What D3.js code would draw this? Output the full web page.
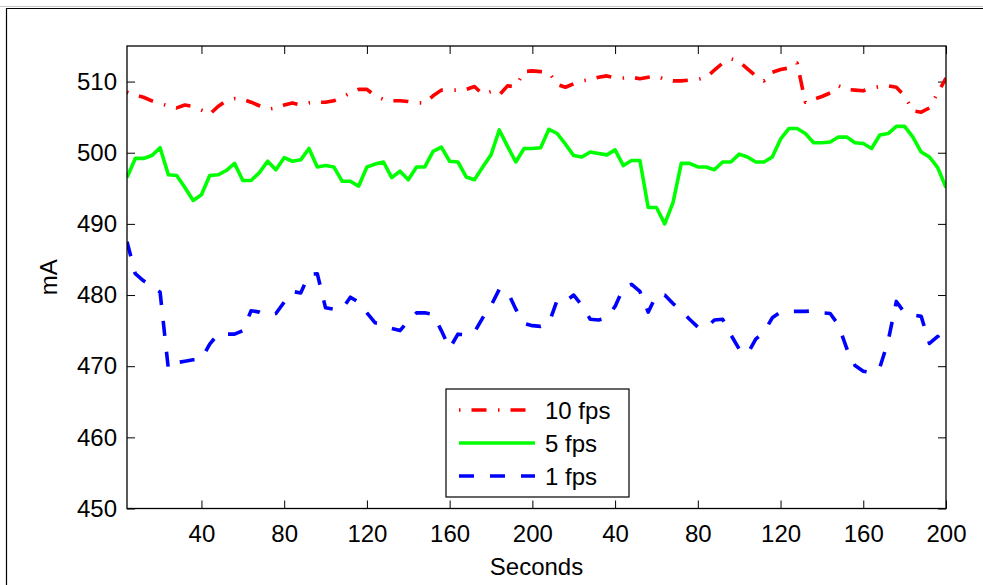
<!DOCTYPE html>
<html>
<head>
<meta charset="utf-8">
<script src="https://cdn.jsdelivr.net/npm/d3@7"></script>
<style>
  html, body { margin: 0; padding: 0; background: #fff; }
  svg text { font-family: "Liberation Sans", Arial, Helvetica, sans-serif; fill: #000; }
</style>
</head>
<body>
<svg id="chart" width="983" height="585"></svg>
<script>
// Current draw (mA) sampled every 4 s over two 200 s runs
const seconds = d3.range(4, 401, 4);

const fps10 = [
  508.5, 508.1, 507.8, 507.3, 506.9, 506.6, 506.3, 506.7, 506.5, 506.0,
  505.4, 506.5, 507.3, 507.6, 507.5, 507.1, 506.6, 506.1, 506.3, 506.7,
  507.0, 506.7, 507.0, 507.1, 507.1, 507.3, 507.8, 508.4, 508.9, 508.9,
  508.0, 507.5, 507.3, 507.3, 507.2, 507.0, 507.0, 508.0, 508.8, 508.8,
  508.8, 508.9, 509.3, 508.2, 508.6, 508.1, 509.4, 509.3, 511.4, 511.5,
  511.4, 511.3, 509.6, 509.2, 509.7, 510.1, 510.3, 510.6, 510.8, 510.5,
  510.5, 510.6, 510.4, 510.6, 510.8, 510.3, 510.1, 510.1, 510.2, 510.3,
  510.6, 511.6, 512.6, 513.2, 512.8, 511.8, 510.8, 510.1, 511.3, 511.7,
  511.9, 512.6, 507.1, 507.5, 507.9, 508.4, 509.4, 508.9, 508.8, 508.7,
  509.1, 509.3, 509.4, 509.2, 508.0, 505.9, 505.7, 506.3, 508.4, 510.5
];

const fps5 = [
  496.5, 499.2, 499.2, 499.6, 500.7, 496.9, 496.8, 495.1, 493.3, 494.1,
  496.8, 496.9, 497.5, 498.5, 496.1, 496.1, 497.2, 498.8, 497.6, 499.3,
  498.8, 499.0, 500.6, 498.0, 498.2, 498.0, 496.0, 496.0, 495.3, 498.0,
  498.4, 498.7, 496.5, 497.4, 496.2, 498.0, 498.0, 500.2, 500.8, 498.8,
  498.7, 496.6, 496.2, 498.0, 499.7, 503.2, 500.9, 498.7, 500.6, 500.6,
  500.7, 503.3, 502.7, 501.2, 499.6, 499.4, 500.1, 499.9, 499.7, 500.4,
  498.2, 498.9, 498.9, 492.3, 492.3, 490.0, 493.0, 498.5, 498.5, 498.0,
  498.0, 497.6, 498.7, 498.7, 499.8, 499.4, 498.7, 498.7, 499.4, 501.9,
  503.4, 503.4, 502.7, 501.4, 501.4, 501.5, 502.2, 502.2, 501.4, 501.3,
  500.6, 502.5, 502.7, 503.7, 503.7, 502.2, 500.1, 499.4, 497.9, 495.1
];

const fps1 = [
  487.5, 483.0, 482.0, 481.3, 480.4, 469.6, 470.5, 470.7, 470.9, 471.0,
  473.1, 474.5, 474.5, 474.5, 475.0, 477.8, 477.6, 477.1, 477.4, 479.0,
  480.5, 480.3, 482.9, 483.0, 478.2, 478.0, 478.0, 479.7, 479.0, 477.5,
  476.1, 475.9, 475.3, 475.0, 476.4, 477.5, 477.5, 477.3, 475.0, 472.5,
  474.5, 474.4, 474.8, 476.8, 478.5, 480.8, 480.5, 478.0, 476.0, 475.7,
  475.6, 476.0, 479.3, 479.1, 480.0, 478.5, 476.6, 476.5, 476.8, 478.4,
  481.0, 481.5, 480.5, 477.6, 480.0, 480.0, 478.8, 477.8, 476.6, 475.5,
  475.4, 476.5, 476.6, 474.4, 472.4, 471.7, 473.8, 474.8, 476.8, 477.6,
  477.7, 477.7, 477.7, 477.8, 477.5, 477.4, 475.8, 472.5, 470.1, 469.3,
  469.1, 469.8, 473.5, 479.1, 477.5, 477.2, 477.0, 473.2, 474.2, 472.3
];

const seriesNames = ["10 fps", "5 fps", "1 fps"];
const xTickValues = [40, 80, 120, 160, 200, 240, 280, 320, 360, 400];
const xTickLabels = ["40", "80", "120", "160", "200", "40", "80", "120", "160", "200"];
const yTickValues = [450, 460, 470, 480, 490, 500, 510];

const series = [
  { name: seriesNames[0], values: fps10, color: "#ff0000", dash: "1.5,11,15,11.5" },
  { name: seriesNames[1], values: fps5,  color: "#00ff00", dash: null },
  { name: seriesNames[2], values: fps1,  color: "#0000ff", dash: "15,16" }
];

const svg = d3.select("#chart");
const W = 983, H = 585;
const plot = { left: 127, right: 946, top: 46, bottom: 508.5 };

svg.append("rect").attr("width", W).attr("height", H).attr("fill", "#fff");

// Figure border
svg.append("line").attr("x1", 0).attr("x2", W).attr("y1", 6.5).attr("y2", 6.5)
  .attr("stroke", "#c4c4c4").attr("stroke-width", 1.2);
svg.append("path").attr("d", `M6.5,${H} L6.5,8.5 L${W},8.5`)
  .attr("fill", "none").attr("stroke", "#000").attr("stroke-width", 1.2);

const x = d3.scaleLinear().domain([4, 400]).range([plot.left, plot.right]);
const y = d3.scaleLinear().domain([450, 515]).range([plot.bottom, plot.top]);

svg.append("defs").append("clipPath").attr("id", "plotClip")
  .append("rect")
  .attr("x", plot.left).attr("y", plot.top)
  .attr("width", plot.right - plot.left).attr("height", plot.bottom - plot.top);

const labelFont = 24;
const tickLen = 8;

// Bottom axis with labels
const gx = svg.append("g").attr("transform", `translate(0,${plot.bottom})`)
  .call(d3.axisBottom(x).tickValues(xTickValues)
    .tickFormat((d, i) => xTickLabels[i])
    .tickSizeInner(-tickLen).tickSizeOuter(0).tickPadding(16));
// Top axis, ticks only
const gxt = svg.append("g").attr("transform", `translate(0,${plot.top})`)
  .call(d3.axisTop(x).tickValues(xTickValues).tickFormat("")
    .tickSizeInner(-tickLen).tickSizeOuter(0));
// Left axis with labels
const gy = svg.append("g").attr("transform", `translate(${plot.left},0)`)
  .call(d3.axisLeft(y).tickValues(yTickValues).tickFormat(d3.format("d"))
    .tickSizeInner(-tickLen).tickSizeOuter(0).tickPadding(10));
// Right axis, ticks only
const gyr = svg.append("g").attr("transform", `translate(${plot.right},0)`)
  .call(d3.axisRight(y).tickValues(yTickValues).tickFormat("")
    .tickSizeInner(-tickLen).tickSizeOuter(0));

[gx, gxt, gy, gyr].forEach(g => {
  g.select(".domain").remove();
  g.selectAll(".tick line").attr("stroke", "#000").attr("stroke-width", 1);
  g.selectAll("text").attr("font-size", labelFont).attr("font-family", null);
});

// Data lines
const line = d3.line().x((d, i) => x(seconds[i])).y(d => y(d));
const gLines = svg.append("g").attr("clip-path", "url(#plotClip)");
series.forEach(s => {
  gLines.append("path")
    .datum(s.values)
    .attr("d", line)
    .attr("fill", "none")
    .attr("stroke", s.color)
    .attr("stroke-width", 3.6)
    .attr("stroke-linejoin", "round")
    .attr("stroke-dasharray", s.dash);
});

// Axes box
svg.append("rect")
  .attr("x", plot.left).attr("y", plot.top)
  .attr("width", plot.right - plot.left).attr("height", plot.bottom - plot.top)
  .attr("fill", "none").attr("stroke", "#000").attr("stroke-width", 1.3);

// Axis titles
svg.append("text")
  .attr("x", (plot.left + plot.right) / 2).attr("y", 575)
  .attr("text-anchor", "middle").attr("font-size", labelFont)
  .text("Seconds");
svg.append("text")
  .attr("transform", `translate(57,${(plot.top + plot.bottom) / 2}) rotate(-90)`)
  .attr("text-anchor", "middle").attr("font-size", labelFont)
  .text("mA");

// Legend
const legend = { x: 446, y: 389, w: 183, h: 108 };
svg.append("rect")
  .attr("x", legend.x).attr("y", legend.y).attr("width", legend.w).attr("height", legend.h)
  .attr("fill", "#fff").attr("stroke", "#000").attr("stroke-width", 1.2);
const rowY = [410, 443, 476];
series.forEach((s, i) => {
  svg.append("line")
    .attr("x1", 459).attr("x2", 535).attr("y1", rowY[i]).attr("y2", rowY[i])
    .attr("stroke", s.color).attr("stroke-width", 3.6)
    .attr("stroke-dasharray", s.dash);
  svg.append("text")
    .attr("x", 545).attr("y", rowY[i] + 8.5)
    .attr("font-size", labelFont)
    .text(s.name);
});
</script>
</body>
</html>
